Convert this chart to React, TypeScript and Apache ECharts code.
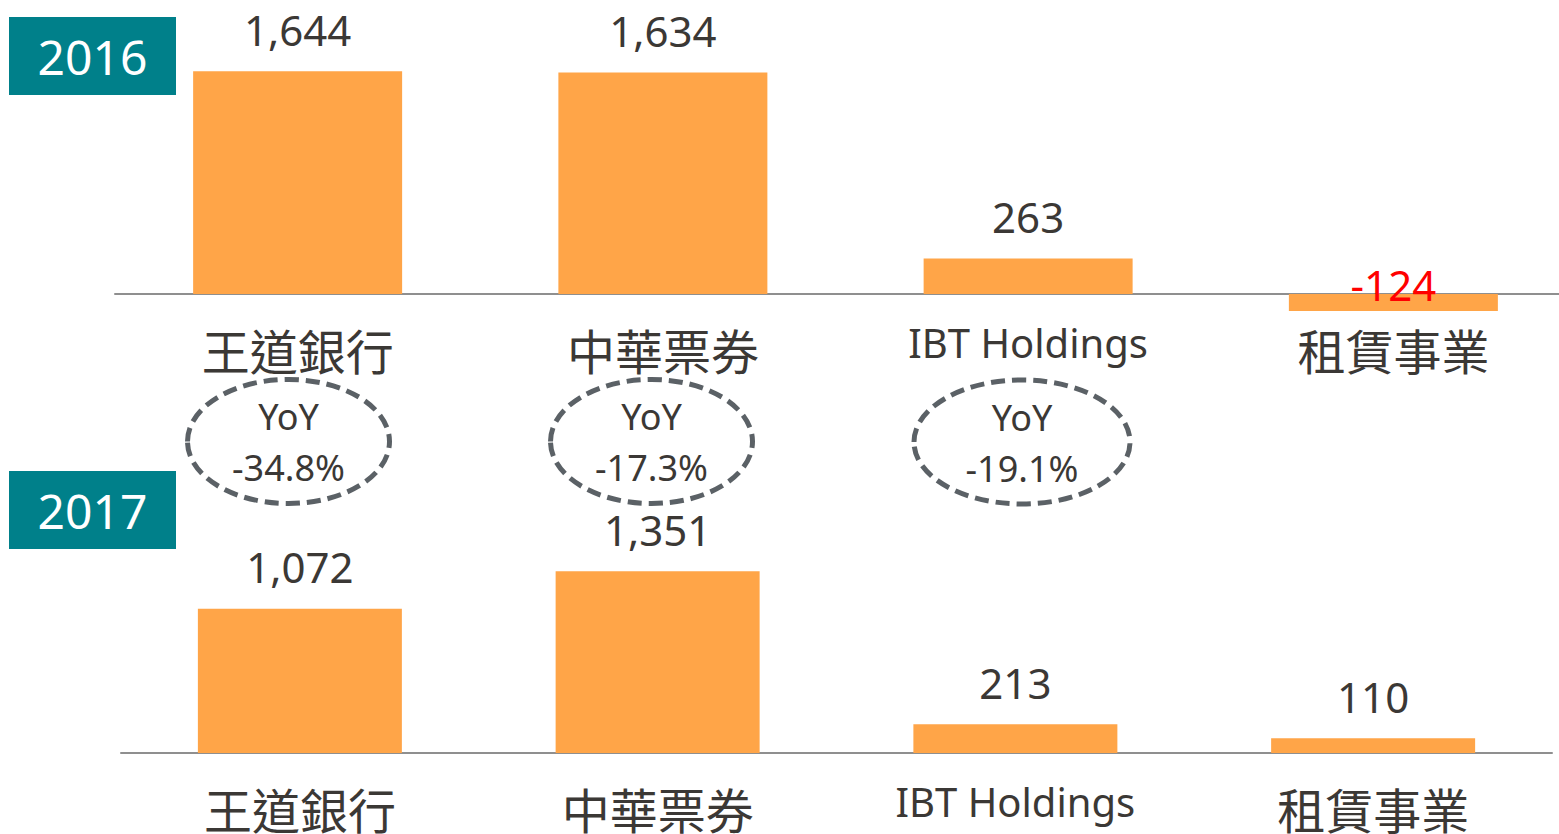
import React, { useEffect, useRef } from "react";
import * as echarts from "echarts";

const categories = ["王道銀行", "中華票券", "IBT Holdings", "租賃事業"];
const values2016 = [1644, 1634, 263, -124];
const values2017 = [1072, 1351, 213, 110];
const yearLabels = ["2016", "2017"];
const yoyLabels = ["-34.8%", "-17.3%", "-19.1%"];

const BAR = "#FFA548";
const TEXT = "#3B3835";
const TEAL = "#00808A";
const AXIS = "#8F8F8F";
const LAT = "'Noto Sans', 'Noto Sans CJK TC', sans-serif";
const CJK = "'Noto Sans CJK TC', 'Noto Sans', sans-serif";

const fmt = (v: number) => v.toLocaleString("en-US");

function catFormatter(v: string) {
  return /[\u4e00-\u9fff]/.test(v) ? `{cjk|${v}}` : `{lat|${v}}`;
}

const xAxisBase = (gridIndex: number, margin: number) => ({
  type: "category" as const,
  gridIndex,
  data: categories,
  axisTick: { show: false },
  axisLine: { show: true, onZero: true, lineStyle: { color: AXIS, width: 2 } },
  axisLabel: {
    interval: 0,
    margin,
    color: TEXT,
    formatter: catFormatter,
    rich: {
      cjk: { fontFamily: CJK, fontSize: 48, lineHeight: 48, color: TEXT, padding: [6, 0, 0, 0] },
      lat: { fontFamily: LAT, fontSize: 40, lineHeight: 40, color: TEXT },
    },
  },
});

const labelBase = {
  show: true,
  position: "top" as const,
  distance: 21,
  color: TEXT,
  fontFamily: LAT,
  fontSize: 42,
  formatter: (p: any) => fmt(p.value),
};

export default function App() {
  const ref = useRef<HTMLDivElement>(null);

  useEffect(() => {
    if (!ref.current) return;
    const chart = echarts.init(ref.current, undefined, { renderer: "svg" });

    const ellipses = [
      { cx: 288.5, cy: 441.5, rx: 101, ry: 62 },
      { cx: 651.5, cy: 441.5, rx: 101, ry: 62 },
      { cx: 1022, cy: 442, rx: 108, ry: 62 },
    ];

    const graphic: any[] = [];
    yearLabels.forEach((y, i) => {
      const top = i === 0 ? 17 : 471;
      graphic.push({
        type: "rect",
        shape: { x: 9, y: top, width: 167, height: 78 },
        style: { fill: TEAL },
        z: 10,
      });
      graphic.push({
        type: "text",
        x: 92.5,
        y: top + 39,
        style: {
          text: y,
          fill: "#FFFFFF",
          fontFamily: LAT,
          fontSize: 48,
          align: "center",
          verticalAlign: "middle",
        },
        z: 11,
      });
    });
    yoyLabels.forEach((t, i) => {
      const e = ellipses[i];
      graphic.push({
        type: "ellipse",
        shape: { cx: e.cx, cy: e.cy, rx: e.rx, ry: e.ry },
        style: { fill: "none", stroke: "#5B6166", lineWidth: 5, lineDash: [14, 7] },
        z: 10,
      });
      graphic.push({
        type: "text",
        x: e.cx,
        y: e.cy - 25,
        style: { text: "YoY", fill: TEXT, fontFamily: LAT, fontSize: 36, align: "center", verticalAlign: "middle" },
        z: 11,
      });
      graphic.push({
        type: "text",
        x: e.cx,
        y: e.cy + 26,
        style: { text: t, fill: TEXT, fontFamily: LAT, fontSize: 36, align: "center", verticalAlign: "middle" },
        z: 11,
      });
    });

    chart.setOption({
      animation: false,
      backgroundColor: "#FFFFFF",
      grid: [
        { left: 115, top: 50, width: 1461, height: 271.2 },
        { left: 121, top: 537.8, width: 1431, height: 215.2 },
      ],
      xAxis: [xAxisBase(0, 1), xAxisBase(1, 28)],
      yAxis: [
        { type: "value", gridIndex: 0, min: -200, max: 1800, show: false, splitLine: { show: false } },
        { type: "value", gridIndex: 1, min: 0, max: 1600, show: false, splitLine: { show: false } },
      ],
      series: [
        {
          type: "bar",
          name: yearLabels[0],
          xAxisIndex: 0,
          yAxisIndex: 0,
          barWidth: 209,
          itemStyle: { color: BAR },
          label: labelBase,
          data: values2016.map((v) =>
            v < 0
              ? {
                  value: v,
                  label: { position: "inside", offset: [0, -18], color: "#FF0000", distance: 0 },
                }
              : v
          ),
        },
        {
          type: "bar",
          name: yearLabels[1],
          xAxisIndex: 1,
          yAxisIndex: 1,
          barWidth: 204,
          itemStyle: { color: BAR },
          label: labelBase,
          data: values2017,
        },
      ],
      graphic,
    });

    return () => chart.dispose();
  }, []);

  return (
    <div
      ref={ref}
      style={{ position: "fixed", left: 0, top: 0, width: 1600, height: 834, background: "#fff" }}
    />
  );
}
